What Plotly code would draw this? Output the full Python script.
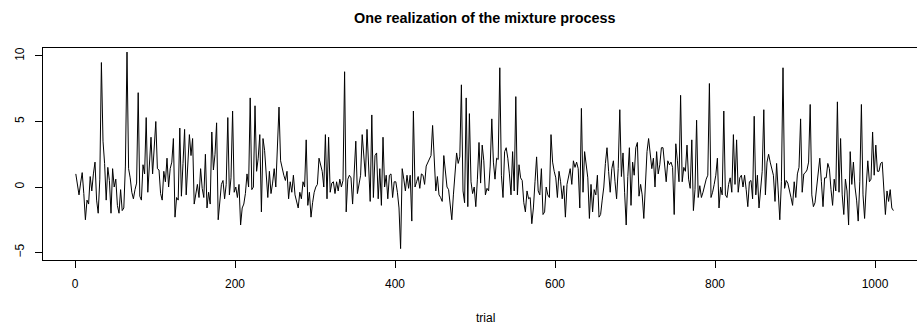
import plotly.graph_objects as go

# Values at every second trial (1, 3, 5, ..., 1023)
seg_001_043 = [1.0, 0.2, -0.6, 0.3, 1.1, -0.5, -2.5, -1.0, -1.3, 0.8, -0.3, 1.0, 1.9, -1.0, -2.0, 0.6, 9.5, 3.5, 1.8, -1.0, 1.5, 0.5]
seg_045_143 = [-2.0, 1.4, 0.0, 0.6, -1.4, -2.0, -0.2, -1.8, -1.6, 1.6,
               10.3, 1.4, 0.7, -0.4, -0.9, -0.2, 0.3, 7.2, -0.7, -1.0,
               1.7, 1.0, 5.3, -0.4, 1.5, 3.8, 1.0, 3.5, 5.0, 1.4,
               1.3, -0.5, -1.0, 1.2, 0.4, 2.2, 0.0, 1.4, 1.9, 3.7,
               -2.3, -0.8, -1.0, 4.5, -0.7, 1.8, 4.4, -0.6, 1.5, 4.0]
seg_145_243 = [2.4, 3.7, -1.3, -0.5, 0.2, -0.8, 1.4, -0.1, -0.8, 2.5,
               -1.6, -0.4, -1.3, 4.2, 1.3, 2.5, 4.9, -2.5, -1.4, 0.2,
               0.5, -0.9, 0.2, 5.3, -0.6, 0.7, 5.8, -0.4, 0.0, -0.8,
               0.2, -2.9, -1.6, -1.3, -0.5, 1.0, 0.0, 6.8, -0.2, 0.0,
               6.2, 1.2, 2.2, 4.0, -1.9, 3.7, 2.8, 1.0, -0.8, 1.2]
seg_245_343 = [-0.5, 0.3, 1.4, 0.0, 3.5, 6.1, 2.0, 1.4, 0.9, 0.5,
               1.2, -0.9, 0.4, -0.4, 0.9, -0.6, -1.1, -1.6, -0.4, -0.9,
               0.4, 0.0, 3.6, -1.4, -0.4, -2.3, -1.2, -0.4, 0.0, 0.2,
               2.2, 1.6, 1.2, 0.0, 4.0, -0.9, 3.8, -0.4, 0.3, 0.4,
               -0.5, 0.4, -0.3, 0.6, 0.0, 0.5, 8.8, -1.9, 0.6, 0.9]
seg_345_443 = [0.7, -1.3, 1.0, 3.5, -0.5, 0.4, 0.9, 4.0, 2.4, 0.8,
               4.4, 1.2, -1.1, 5.5, -0.8, 2.4, 2.6, -0.9, 1.4, -1.4,
               3.8, 0.0, 0.9, -0.9, 0.9, 1.0, -0.8, 0.4, 0.4, -0.4,
               -1.6, -4.7, 1.4, 0.6, -0.3, 0.9, -0.1, 0.9, -2.6, 5.8,
               0.0, 0.4, 0.8, -0.1, 1.0, 0.9, 0.2, 1.6, 1.9, 2.2]
seg_445_543 = [2.4, 4.7, 1.9, -0.3, 0.8, -0.6, -0.8, -1.1, 2.4, 1.4,
               0.0, -0.2, -1.6, -2.5, -0.6, 1.2, 2.6, 1.8, 2.3, 7.8,
               -0.3, -1.2, 6.8, -1.5, 5.6, 0.4, -0.5, 0.0, -1.5, 0.6,
               3.4, 0.3, 3.2, 2.0, -0.6, -0.1, -0.3, 1.6, 5.2, 1.9,
               0.6, 2.2, 2.1, 9.1, 0.9, -0.8, 2.7, 3.0, 2.2, 1.0]
seg_545_643 = [-0.6, 2.7, -0.3, 6.9, -0.6, 1.7, 0.7, 0.5, -1.2, -1.9,
               -0.3, -0.9, -0.8, -2.8, -1.6, 0.4, 2.3, -0.3, -0.6, 1.4,
               -2.1, -1.9, 0.0, -0.6, -0.8, 4.0, 1.9, 1.2, 0.7, -0.8,
               1.2, 0.4, -0.9, 0.1, -2.3, 0.2, 0.9, 1.4, 0.2, 2.0,
               1.5, 1.9, 1.4, -1.6, 6.0, -0.4, 2.7, 1.4, 0.7, -2.4]
seg_645_743 = [0.2, -1.9, -0.2, -0.6, 0.9, -2.3, -2.1, -1.0, 0.0, 1.8,
               3.0, 1.2, -0.4, 1.4, 2.0, 0.4, -0.9, 1.4, 5.9, 0.8,
               2.6, -0.4, -2.9, 0.8, 3.0, -1.4, 1.9, 0.9, 3.0, 3.4,
               -0.7, 0.2, -0.6, -2.4, 0.6, 2.7, 3.7, 2.5, 1.4, 2.2,
               0.0, 2.7, 1.0, 1.7, 3.0, 3.0, 1.7, 0.4, 2.0, 1.7]
seg_745_843 = [1.9, 1.5, -2.1, 3.3, 2.0, 0.4, 7.0, 0.4, 1.5, 1.2,
               3.2, 0.6, -0.1, 3.6, -1.8, -0.2, 5.1, -0.8, 0.1, -0.8,
               -0.4, 0.2, 0.6, 0.9, 7.9, -0.8, -0.4, 0.2, 0.9, 2.2,
               -1.6, 0.0, -0.6, 5.8, -0.6, -0.8, 0.2, 0.7, -0.4, 4.0,
               0.2, 3.6, -0.4, 0.7, 0.9, 0.0, 0.9, -0.2, -1.5, 0.4]
seg_845_943 = [0.5, -0.9, 5.4, -0.6, 0.9, -1.6, -0.4, 1.2, 5.9, -0.6,
               1.9, 2.5, 1.9, 1.4, 0.9, -1.1, 1.8, -0.3, -2.5, 0.4,
               9.1, -0.1, 0.5, 0.3, -0.4, -0.8, -1.4, 0.4, -0.8, 1.0,
               1.5, 5.2, -0.4, 1.0, 1.1, 1.3, 1.9, 6.3, -0.6, -1.5,
               -1.2, -0.1, 1.4, 2.2, 0.4, -1.5, 0.7, 0.7, 1.8, 1.4]
seg_945_1023 = [-0.2, -1.4, 0.6, -0.3, 6.5, -0.4, 3.7, -0.6, -2.1, 0.6,
                -0.3, -2.9, 2.7, 0.2, 1.9, 0.0, -1.0, -2.6, 0.4, 6.3,
                -0.6, -2.4, 0.0, 2.0, 0.4, 0.6, 4.2, 0.9, 3.2, 1.2,
                1.2, 1.8, 1.9, -0.4, -2.1, -0.3, -1.1, -0.2, -1.6, -1.8]

values = (seg_001_043 + seg_045_143 + seg_145_243 + seg_245_343 + seg_345_443 +
          seg_445_543 + seg_545_643 + seg_645_743 + seg_745_843 + seg_845_943 + seg_945_1023)
trial = list(range(1, 2 * len(values), 2))

x_ticks = [0, 200, 400, 600, 800, 1000]
y_ticks = [-5, 0, 5, 10]
title_text = "One realization of the mixture process"
x_title = "trial"

FONT = "Liberation Sans, Arial, Helvetica, sans-serif"

fig = go.Figure()
fig.add_trace(go.Scatter(x=trial, y=values, mode="lines",
                         line=dict(color="black", width=1), hoverinfo="skip"))

W, H = 917, 329
L, R, T, B = 43, 0, 48, 69

fig.update_layout(
    width=W, height=H,
    margin=dict(l=L, r=R, t=T, b=B, pad=0),
    paper_bgcolor="white", plot_bgcolor="white",
    showlegend=False,
    font=dict(family=FONT, size=12, color="black"),
    xaxis=dict(range=[-40, 1052.5], tickvals=x_ticks, ticktext=[str(v) for v in x_ticks],
               showgrid=False, zeroline=False, showline=True, mirror=True,
               linecolor="black", linewidth=1, ticks="outside", ticklen=7,
               tickwidth=1, tickcolor="black", ticklabelstandoff=6,
               tickfont=dict(family=FONT, size=12, color="black")),
    yaxis=dict(range=[-5.57, 10.61], tickvals=y_ticks, ticktext=[str(v).replace("-", "\u2212") for v in y_ticks],
               showgrid=False, zeroline=False, showline=True, mirror=False,
               linecolor="black", linewidth=1, ticks="outside", ticklen=7,
               tickwidth=1, tickcolor="black", tickangle=-90, ticklabelstandoff=6,
               tickfont=dict(family=FONT, size=12, color="black")),
    annotations=[
        dict(text="<b>" + title_text + "</b>", xref="paper", yref="paper",
             x=(485 - L) / (W - L - R), y=1, yshift=30, showarrow=False,
             xanchor="center", yanchor="middle",
             font=dict(family=FONT, size=14.4, color="black")),
        dict(text=x_title, xref="paper", yref="paper",
             x=(485 - L) / (W - L - R), y=0, yshift=-58, showarrow=False,
             xanchor="center", yanchor="middle",
             font=dict(family=FONT, size=12, color="black")),
    ],
)

fig.write_html("out.html")
